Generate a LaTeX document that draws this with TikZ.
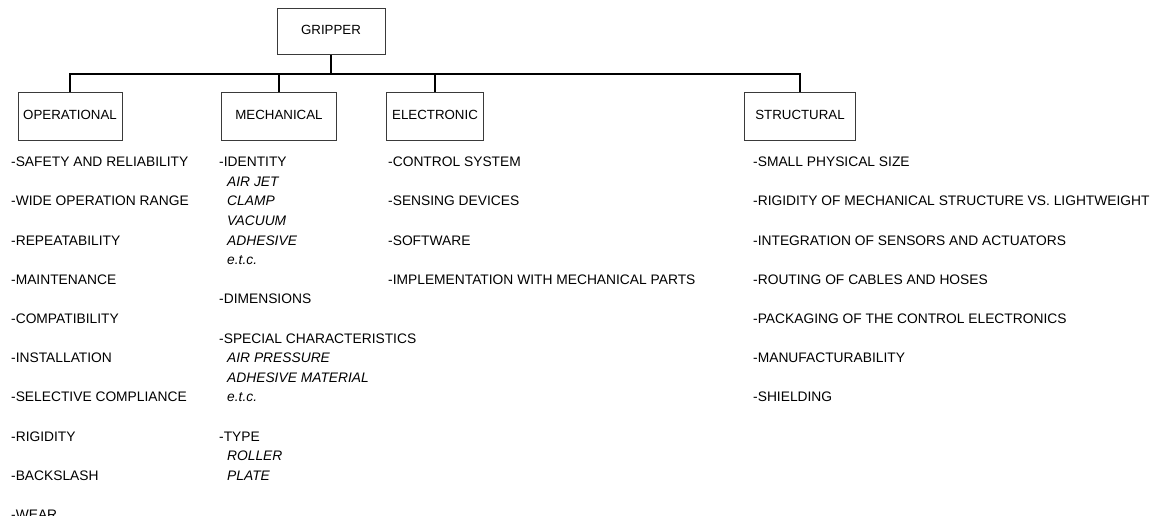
\documentclass[tikz,border=0pt]{standalone}
\usepackage{fontspec}
\setmainfont{Liberation Sans}
\usepackage{tikz}
\usetikzlibrary{positioning}
\usepackage{xcolor}
\definecolor{BoxGray}{HTML}{3A3A3A}

\tikzset{
  catbox/.style={draw=BoxGray, line width=1pt, fill=white, inner sep=0pt,
                 minimum height=48pt, text depth=4pt,
                 font=\fontsize{13.3}{15}\selectfont},
  listitem/.style={anchor=base west, inner sep=0pt,
                   font=\fontsize{13.8}{16}\selectfont},
  subitem/.style={anchor=base west, inner sep=0pt,
                  font=\fontsize{13.8}{16}\selectfont\itshape},
  trunk/.style={line width=2.8pt, black},
}

\begin{document}
\begin{tikzpicture}[x=1pt, y=-1pt]
\useasboundingbox (0,0) rectangle (1151,516);

% ── Tree ──────────────────────────────────────────────────────────────────────
\node[catbox, minimum width=108pt, minimum height=46pt] (gripper) at (331, 32) {GRIPPER};

\node[catbox, minimum width=104pt] (op)     at (70, 117)  {OPERATIONAL};
\node[catbox, minimum width=115pt] (mech)   at (279, 117) {MECHANICAL};
\node[catbox, minimum width=97pt]  (elec)   at (435, 117) {ELECTRONIC};
\node[catbox, minimum width=111pt] (struct) at (800, 117) {STRUCTURAL};

\coordinate (bus) at (331, 74);
\draw[trunk] (gripper.south) -- (bus);
\foreach \b in {op,mech,elec,struct}{
  \draw[trunk] (bus) -| (\b.north);
}

% ── Operational ───────────────────────────────────────────────────────────────
\foreach \txt [count=\i] in {-SAFETY AND RELIABILITY, -WIDE OPERATION RANGE,
    -REPEATABILITY, -MAINTENANCE, -COMPATIBILITY, -INSTALLATION,
    -SELECTIVE COMPLIANCE, -RIGIDITY, -BACKSLASH, -WEAR}{
  \node[listitem] (op\i) at (11, {166.7 + 39.2*(\i-1)}) {\txt};
}

% ── Mechanical ────────────────────────────────────────────────────────────────
\foreach \j/\txt in {1/-IDENTITY, 8/-DIMENSIONS, 10/-SPECIAL CHARACTERISTICS, 15/-TYPE}{
  \node[listitem] (mech\j) at (219, {166.7 + 19.6*(\j-1)}) {\txt};
}
\foreach \j/\txt in {2/AIR JET, 3/CLAMP, 4/VACUUM, 5/ADHESIVE, 6/e.t.c.,
    11/AIR PRESSURE, 12/ADHESIVE MATERIAL, 13/e.t.c., 16/ROLLER, 17/PLATE}{
  \node[subitem] (mech\j) at (227, {166.7 + 19.6*(\j-1)}) {\txt};
}

% ── Electronic ────────────────────────────────────────────────────────────────
\foreach \txt [count=\i] in {-CONTROL SYSTEM, -SENSING DEVICES, -SOFTWARE,
    -IMPLEMENTATION WITH MECHANICAL PARTS}{
  \node[listitem] (elec\i) at (388, {166.7 + 39.2*(\i-1)}) {\txt};
}

% ── Structural ────────────────────────────────────────────────────────────────
\foreach \txt [count=\i] in {-SMALL PHYSICAL SIZE,
    -RIGIDITY OF MECHANICAL STRUCTURE VS. LIGHTWEIGHT,
    -INTEGRATION OF SENSORS AND ACTUATORS, -ROUTING OF CABLES AND HOSES,
    -PACKAGING OF THE CONTROL ELECTRONICS, -MANUFACTURABILITY, -SHIELDING}{
  \node[listitem] (struct\i) at (753, {166.7 + 39.2*(\i-1)}) {\txt};
}

\end{tikzpicture}
\end{document}
